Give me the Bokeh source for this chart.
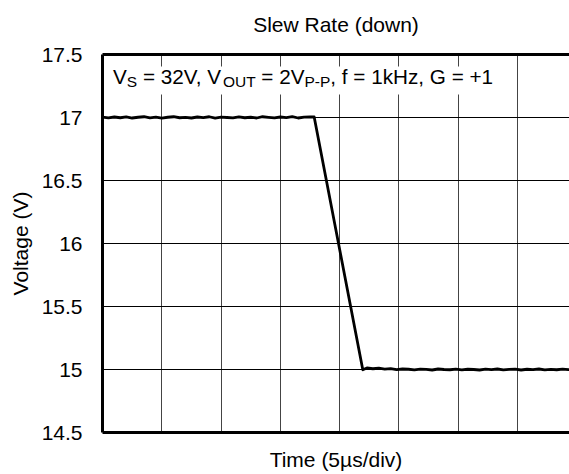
from bokeh.plotting import figure
from bokeh.models import Range1d, FixedTicker, LinearAxis, Label, BoxAnnotation
from bokeh.embed import file_html
from bokeh.resources import INLINE

# ---------------- data ----------------
time_us = [0.0, 0.5, 1.0, 1.5, 2.0, 2.5, 3.0, 3.5, 4.0, 4.5, 5.0, 5.5, 6.0, 6.5,
           7.0, 7.5, 8.0, 8.5, 9.0, 9.5, 10.0, 10.5, 11.0, 11.5, 12.0, 12.5, 13.0,
           13.5, 14.0, 14.5, 15.0, 15.5, 16.0, 16.5, 17.0, 17.5, 17.85,
           21.95, 22.3, 22.8, 23.3, 23.8, 24.3, 24.8, 25.3, 25.8, 26.3, 26.8, 27.3,
           27.8, 28.3, 28.8, 29.3, 29.8, 30.3, 30.8, 31.3, 31.8, 32.3, 32.8, 33.3,
           33.8, 34.3, 34.8, 35.3, 35.8, 36.3, 36.8, 37.3, 37.8, 38.3, 38.8, 39.3, 39.8]
voltage_v = [17.003, 16.997, 17.004, 16.998, 17.005, 16.996, 17.002, 17.006, 16.997,
             17.003, 16.995, 17.002, 17.006, 16.998, 17.001, 16.996, 17.004, 16.999,
             17.006, 16.995, 17.003, 17.000, 16.997, 17.005, 16.998, 17.002, 16.996,
             17.006, 17.001, 16.997, 17.004, 16.999, 17.007, 16.996, 17.003, 17.005, 17.004,
             14.998, 15.012, 15.006, 15.010, 15.003, 15.007, 14.999, 15.004, 15.002,
             14.997, 15.003, 15.001, 14.996, 15.004, 15.000, 14.998, 15.003, 14.997,
             15.002, 15.000, 14.996, 15.003, 14.999, 15.004, 14.997, 15.001, 15.003,
             14.996, 15.002, 14.999, 15.004, 14.997, 15.001, 14.998, 15.003, 14.999, 15.002]

x_grid_ticks = [5, 10, 15, 20, 25, 30, 35]
y_ticks = [14.5, 15.0, 15.5, 16.0, 16.5, 17.0, 17.5]
y_tick_labels = ["14.5", "15", "15.5", "16", "16.5", "17", "17.5"]
x_start, x_view_end = 0.0, 39.38
y_start, y_end = 14.5, 17.5

title_text = "Slew Rate (down)"
x_label = "Time (5µs/div)"
y_label = "Voltage (V)"
cond_parts = ["V", "S", "= 32V, V", "OUT", "= 2V", "P-P", ", f = 1kHz, G = +1"]
cond_is_sub = [False, True, False, True, False, True, False]

FONT = "Liberation Sans"

p = figure(width=569, height=474, output_backend="svg", toolbar_location=None,
           x_range=Range1d(x_start, x_view_end), y_range=Range1d(y_start, y_end),
           min_border_left=102, min_border_right=0, min_border_top=54,
           min_border_bottom=42, background_fill_color="white",
           border_fill_color="white", outline_line_color=None)

# grids
p.xgrid.ticker = FixedTicker(ticks=x_grid_ticks)
p.ygrid.ticker = FixedTicker(ticks=y_ticks)
p.xgrid.grid_line_color = "#444444"
p.ygrid.grid_line_color = "black"
p.xgrid.grid_line_width = 1
p.ygrid.grid_line_width = 1

# x axis (no tick labels)
xa = p.xaxis[0]
xa.ticker = FixedTicker(ticks=[])
xa.axis_line_width = 3
xa.axis_line_color = "black"
xa.major_tick_out = 0
xa.major_tick_in = 0
xa.minor_tick_out = 0
xa.minor_tick_in = 0
xa.axis_label = x_label
xa.axis_label_text_font = FONT
xa.axis_label_text_font_size = "21px"
xa.axis_label_text_font_style = "normal"
xa.axis_label_text_color = "black"
xa.axis_label_standoff = 15

# y axis
ya = p.yaxis[0]
ya.ticker = FixedTicker(ticks=y_ticks)
ya.major_label_overrides = {t: s for t, s in zip(y_ticks, y_tick_labels)}
ya.axis_line_width = 3
ya.axis_line_color = "black"
ya.major_tick_out = 0
ya.major_tick_in = 0
ya.minor_tick_out = 0
ya.minor_tick_in = 0
ya.major_label_standoff = 20
ya.major_label_text_font = FONT
ya.major_label_text_font_size = "21px"
ya.major_label_text_color = "black"
ya.axis_label = y_label
ya.axis_label_text_font = FONT
ya.axis_label_text_font_size = "21px"
ya.axis_label_text_font_style = "normal"
ya.axis_label_text_color = "black"
ya.axis_label_standoff = 7

# top border as an empty axis carrying the chart title
top = LinearAxis(ticker=FixedTicker(ticks=[]), axis_line_width=3, axis_line_color="black",
                 major_tick_out=0, major_tick_in=0, minor_tick_out=0, minor_tick_in=0,
                 major_label_text_font_size="0px",
                 axis_label=title_text, axis_label_text_font=FONT,
                 axis_label_text_font_size="21px", axis_label_text_font_style="normal",
                 axis_label_text_color="black", axis_label_standoff=19)
p.add_layout(top, "above")

# trace
p.line(time_us, voltage_v, line_color="black", line_width=2.8, line_join="round")

# conditions annotation with white background
p.add_layout(BoxAnnotation(left=6, right=395, top=366, bottom=338,
                           left_units="screen", right_units="screen",
                           top_units="screen", bottom_units="screen",
                           fill_color="white", fill_alpha=1.0, line_color=None,
                           level="overlay"))
x_offsets = [10.5, 24.31, 40.40, 120.39, 158.86, 202.02, 227.86]
for txt, sub, xo in zip(cond_parts, cond_is_sub, x_offsets):
    p.add_layout(Label(x=xo, y=351 if sub else 356, x_units="screen", y_units="screen",
                       text=txt, text_font=FONT,
                       text_font_size="15.5px" if sub else "20.7px",
                       text_color="black", text_baseline="alphabetic",
                       text_align="left", level="overlay"))

open("out.html", "w").write(file_html(p, INLINE))
